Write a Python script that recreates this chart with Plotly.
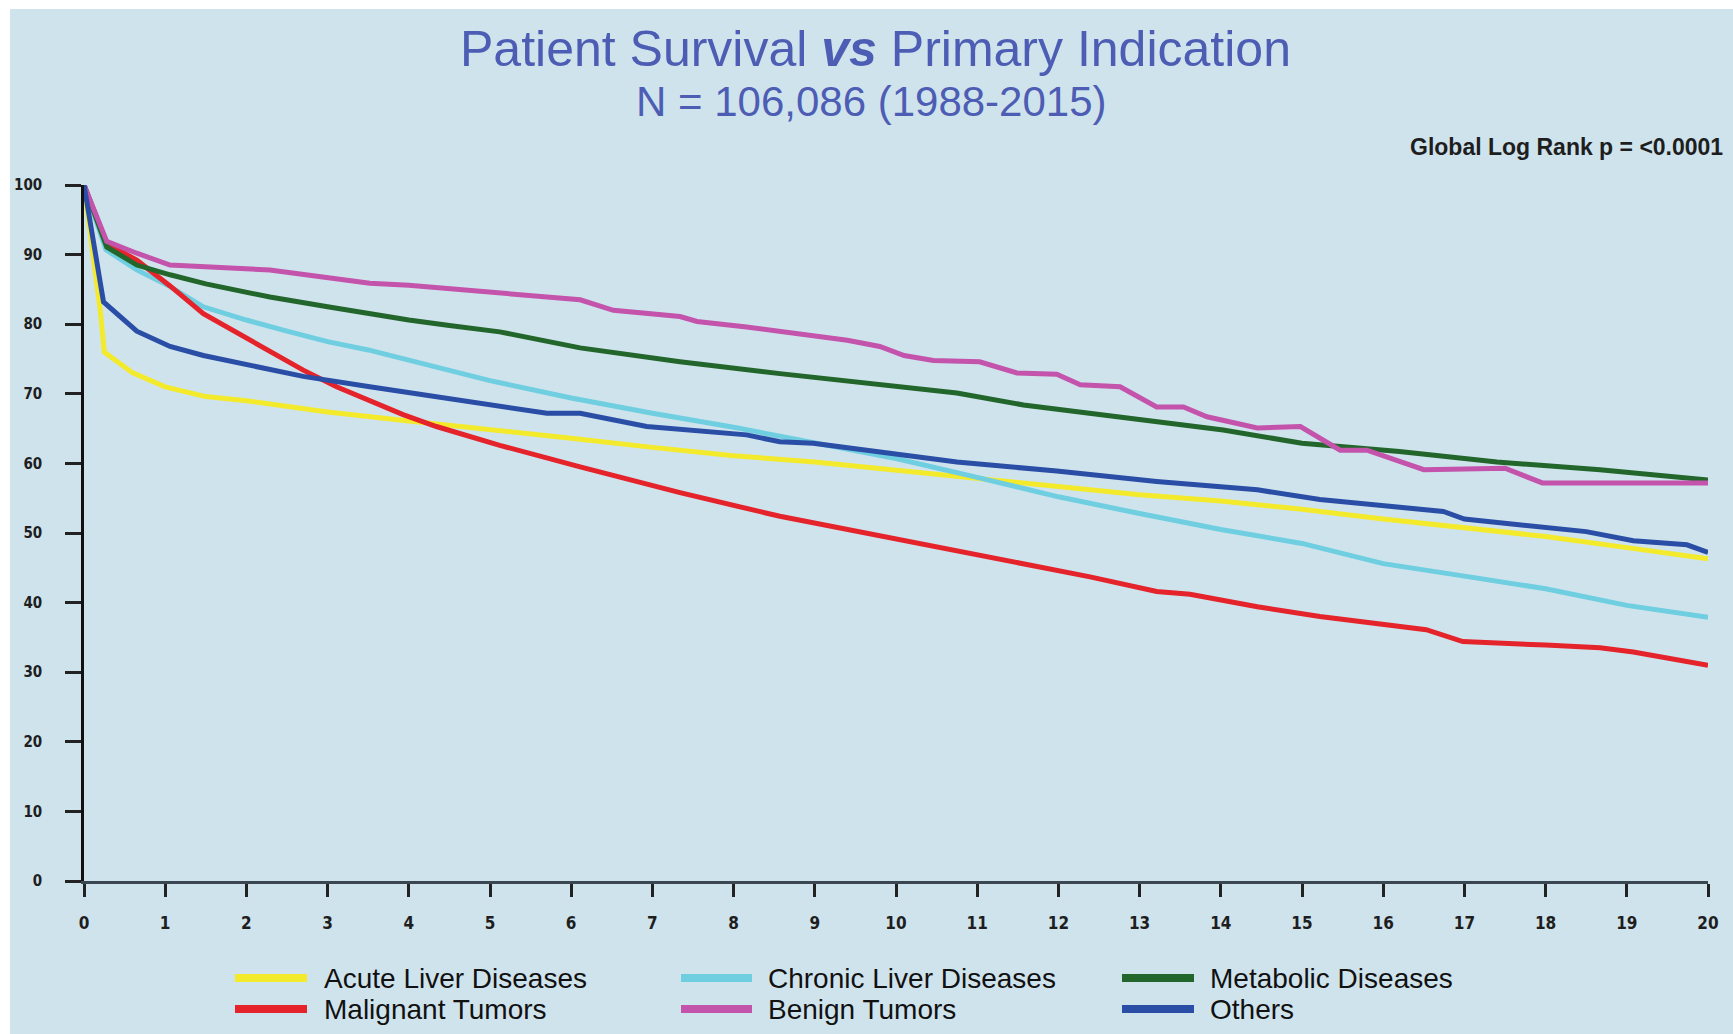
import plotly.graph_objects as go

# Kaplan-Meier style patient survival (%) by primary indication, years after transplant
acute_t = [0, 0.2, 0.25, 0.6, 1, 1.5, 2, 3, 4, 5, 6, 7, 8, 9, 10, 11, 12, 13, 14, 15, 16, 17, 18, 19, 20]
acute_v = [100, 82, 76, 73, 71, 69.6, 69.0, 67.4, 66.1, 64.9, 63.6, 62.3, 61.1, 60.2, 59.0, 57.8, 56.6, 55.5, 54.6, 53.4, 52.0, 50.8, 49.5, 47.9, 46.3]

chronic_t = [0, 0.27, 0.65, 1.06, 1.47, 2, 2.5, 3, 3.5, 4, 5, 6, 7, 8, 9, 10, 11, 12, 13, 14, 15, 16, 17, 18, 19, 20]
chronic_v = [100, 90.7, 87.8, 85.4, 82.5, 80.6, 79.0, 77.5, 76.3, 74.8, 71.9, 69.4, 67.2, 65.2, 62.9, 60.7, 58.0, 55.2, 52.8, 50.5, 48.5, 45.6, 43.8, 42.0, 39.6, 37.9]

metabolic_t = [0, 0.28, 0.65, 1.06, 1.5, 2.29, 3, 3.52, 4, 4.5, 5.12, 6.11, 7.34, 8.57, 10.16, 10.75, 11.57, 12.27, 13.21, 14.03, 15.0, 16.2, 17.4, 18.67, 20]
metabolic_v = [100, 91.1, 88.5, 87.1, 85.8, 83.9, 82.5, 81.5, 80.6, 79.8, 78.9, 76.6, 74.6, 72.9, 70.8, 70.1, 68.4, 67.4, 66.0, 64.8, 62.9, 61.7, 60.2, 59.1, 57.6]

malignant_t = [0, 0.28, 0.65, 1.06, 1.47, 1.88, 2.29, 2.7, 3.11, 3.52, 3.93, 4.34, 4.88, 5.12, 6.11, 7.34, 8.57, 9.93, 10.75, 11.57, 12.39, 13.21, 13.62, 14.45, 15.22, 16.53, 16.98, 18.0, 18.67, 19.08, 19.5, 20]
malignant_v = [100, 91.6, 89.2, 85.5, 81.5, 78.8, 76.2, 73.4, 71.0, 69.0, 67.0, 65.3, 63.4, 62.6, 59.5, 55.8, 52.4, 49.3, 47.5, 45.6, 43.7, 41.6, 41.2, 39.4, 38.0, 36.1, 34.4, 33.9, 33.5, 32.9, 32.0, 31.0]

benign_t = [0, 0.28, 0.65, 1.06, 2.29, 3, 3.52, 4, 5.12, 6.11, 6.52, 7.34, 7.55, 8.16, 9.4, 9.8, 10.1, 10.46, 11.03, 11.49, 11.98, 12.27, 12.76, 13.21, 13.54, 13.83, 14.45, 14.98, 15.47, 15.8, 16.5, 17.5, 17.96, 20]
benign_v = [100, 91.9, 90.2, 88.5, 87.8, 86.8, 85.9, 85.6, 84.4, 83.5, 82.0, 81.1, 80.4, 79.6, 77.7, 76.8, 75.5, 74.8, 74.6, 73.0, 72.8, 71.3, 71.0, 68.1, 68.1, 66.7, 65.1, 65.3, 61.9, 61.9, 59.1, 59.3, 57.2, 57.2]

others_t = [0, 0.24, 0.65, 1.06, 1.47, 1.88, 2.29, 2.7, 3.52, 4.34, 4.88, 5.7, 6.11, 6.93, 8.16, 8.57, 8.98, 9.93, 10.75, 11.98, 13.21, 14.45, 15.22, 16.74, 17.0, 18.5, 19.08, 19.74, 20]
others_v = [100, 83.2, 79.0, 76.8, 75.5, 74.5, 73.4, 72.5, 71.0, 69.6, 68.6, 67.2, 67.2, 65.3, 64.1, 63.1, 62.9, 61.4, 60.2, 58.9, 57.4, 56.2, 54.8, 53.1, 52.0, 50.2, 48.9, 48.3, 47.2]

series_names = ["Acute Liver Diseases", "Chronic Liver Diseases", "Metabolic Diseases",
                "Malignant Tumors", "Benign Tumors", "Others"]
series_colors = ["#f4ea2c", "#6fcfe0", "#22662b", "#e5232b", "#c453ab", "#2a4ea6"]
series_data = [(acute_t, acute_v), (chronic_t, chronic_v), (metabolic_t, metabolic_v),
               (malignant_t, malignant_v), (benign_t, benign_v), (others_t, others_v)]

x_ticks = list(range(0, 21))
y_ticks = list(range(0, 101, 10))

# page geometry (pixels)
W, H = 1733, 1034
L, R, T, B = 84, 25, 185, 153
PW, PH = W - L - R, H - T - B


def px(x):
    return (x - L) / PW


def py(y):
    return (H - B - y) / PH


BG = "#cfe3ed"
SANS = "Liberation Sans, Arial, sans-serif"
tick_font = dict(family="Liberation Sans Narrow, DejaVu Sans Condensed, Arial Narrow, Liberation Sans, sans-serif",
                 size=15, color="#1e1e1e", weight="bold")

fig = go.Figure()

draw_order = [0, 1, 3, 2, 4, 5]
for i in draw_order:
    t, v = series_data[i]
    fig.add_trace(go.Scatter(x=t, y=v, mode="lines", name=series_names[i],
                             line=dict(color=series_colors[i], width=5),
                             showlegend=False, hoverinfo="x+y+name"))

shapes = [dict(type="rect", xref="paper", yref="paper", x0=px(10), x1=px(W + 5),
               y0=py(H + 5), y1=py(9), fillcolor=BG, line=dict(width=0), layer="below")]
annotations = [
    dict(text="Patient Survival <b><i>vs</i></b> Primary Indication", x=px(875), y=py(49),
         xref="paper", yref="paper", xanchor="center", yanchor="middle", showarrow=False,
         font=dict(family=SANS, size=50, color="#4d5db4")),
    dict(text="N = 106,086 (1988-2015)", x=px(871), y=py(101),
         xref="paper", yref="paper", xanchor="center", yanchor="middle", showarrow=False,
         font=dict(family=SANS, size=42, color="#4d5db4")),
    dict(text="Global Log Rank p = <0.0001", x=px(1408), y=py(147),
         xref="paper", yref="paper", xanchor="left", yanchor="middle", showarrow=False,
         font=dict(family=SANS, size=23, color="#1e1e1e", weight="bold")),
]

# legend laid out in three columns, two rows
swatch_x = [(235, 307), (681, 752), (1122, 1194)]
text_x = [322, 766, 1208]
row_y = [978, 1009]
for k, name in enumerate(series_names):
    col, row = k % 3, k // 3
    shapes.append(dict(type="line", xref="paper", yref="paper",
                       x0=px(swatch_x[col][0]), x1=px(swatch_x[col][1]),
                       y0=py(row_y[row]), y1=py(row_y[row]),
                       line=dict(color=series_colors[k], width=8)))
    annotations.append(dict(text=name, x=px(text_x[col]), y=py(row_y[row]),
                            xref="paper", yref="paper", xanchor="left", yanchor="middle",
                            showarrow=False,
                            font=dict(family=SANS, size=28, color="#111111")))

fig.update_layout(
    width=W, height=H,
    margin=dict(l=L, r=R, t=T, b=B, pad=0),
    paper_bgcolor="white",
    plot_bgcolor="rgba(0,0,0,0)",
    shapes=shapes,
    annotations=annotations,
    showlegend=False,
    xaxis=dict(range=[0, 20], tickvals=x_ticks, ticktext=[str(v) for v in x_ticks],
               showgrid=False, zeroline=False, showline=True, linecolor="#3a4650", linewidth=3,
               ticks="outside", ticklen=13, tickwidth=2.5, tickcolor="#222222",
               tickfont=dict(tick_font, size=17), ticklabelstandoff=12, fixedrange=True),
    yaxis=dict(range=[0, 100], tickvals=y_ticks, ticktext=[str(v) for v in y_ticks],
               showgrid=False, zeroline=False, showline=True, linecolor="#111111", linewidth=2.5,
               ticks="outside", ticklen=16, tickwidth=3, tickcolor="#222222",
               tickfont=tick_font, ticklabelstandoff=20, fixedrange=True),
)

fig.write_html("out.html")
